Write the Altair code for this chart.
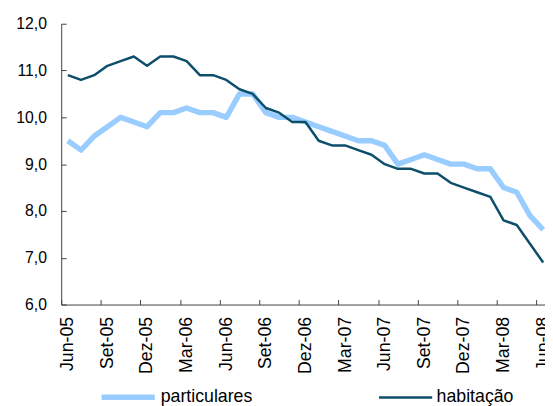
import altair as alt
import pandas as pd

# Monthly categories Jun-05 .. Jun-08
months = ["Jun-05", "Jul-05", "Ago-05", "Set-05", "Out-05", "Nov-05", "Dez-05",
          "Jan-06", "Fev-06", "Mar-06", "Abr-06", "Mai-06", "Jun-06", "Jul-06",
          "Ago-06", "Set-06", "Out-06", "Nov-06", "Dez-06", "Jan-07", "Fev-07",
          "Mar-07", "Abr-07", "Mai-07", "Jun-07", "Jul-07", "Ago-07", "Set-07",
          "Out-07", "Nov-07", "Dez-07", "Jan-08", "Fev-08", "Mar-08", "Abr-08",
          "Mai-08", "Jun-08"]
tick_labels = ["Jun-05", "Set-05", "Dez-05", "Mar-06", "Jun-06", "Set-06", "Dez-06",
               "Mar-07", "Jun-07", "Set-07", "Dez-07", "Mar-08", "Jun-08"]
particulares = [9.5, 9.3, 9.6, 9.8, 10.0, 9.9, 9.8, 10.1, 10.1, 10.2, 10.1, 10.1, 10.0,
                10.5, 10.5, 10.1, 10.0, 10.0, 9.9, 9.8, 9.7, 9.6, 9.5, 9.5, 9.4, 9.0,
                9.1, 9.2, 9.1, 9.0, 9.0, 8.9, 8.9, 8.5, 8.4, 7.9, 7.6]
habitacao = [10.9, 10.8, 10.9, 11.1, 11.2, 11.3, 11.1, 11.3, 11.3, 11.2, 10.9, 10.9, 10.8,
             10.6, 10.5, 10.2, 10.1, 9.9, 9.9, 9.5, 9.4, 9.4, 9.3, 9.2, 9.0, 8.9,
             8.9, 8.8, 8.8, 8.6, 8.5, 8.4, 8.3, 7.8, 7.7, 7.3, 6.9]
series_names = ["particulares", "habitação"]
series_colors = ["#99ccff", "#0d4e6b"]
y_ticks = [6, 7, 8, 9, 10, 11, 12]

rows = []
for name, vals in zip(series_names, [particulares, habitacao]):
    for i, (m, v) in enumerate(zip(months, vals)):
        rows.append({"i": i, "mes": m, "serie": name, "v": v})
df = pd.DataFrame(rows)

label_positions = [months.index(t) for t in tick_labels]
label_expr = "[" + ",".join("'%s'" % t for t in tick_labels) + "][round(datum.value/3)]"
x_tick_positions = [p - 0.5 for p in label_positions]

W, H = 491, 285
FONT = "Liberation Sans"
AXIS_COLOR = "#404040"

x_scale = alt.Scale(domain=[-0.5, 36.14], nice=False, zero=False)
y_scale = alt.Scale(domain=[6, 12], nice=False, zero=False)

legend = alt.Legend(
    title=None, orient="none", legendX=38, legendY=349, direction="horizontal",
    symbolType="stroke", symbolSize=2916, labelFontSize=18, labelFont=FONT,
    labelColor="black", labelOffset=3, columnPadding=122, padding=0,
)

lines = alt.Chart(df).mark_line(clip=True, strokeJoin="round").encode(
    x=alt.X("i:Q", scale=x_scale, axis=alt.Axis(
        values=label_positions, labelExpr=label_expr, labelAngle=270,
        labelAlign="right", labelBaseline="middle", labelPadding=12,
        ticks=False, tickSize=0, grid=False, title=None, labelFontSize=18,
        labelFont=FONT, labelColor="black", labelOverlap=False, labelFlush=False,
        domainColor=AXIS_COLOR, domainWidth=1)),
    y=alt.Y("v:Q", scale=y_scale, axis=alt.Axis(
        values=y_ticks, labelExpr="replace(format(datum.value, '.1f'), '.', ',')",
        labelPadding=15, ticks=False, tickSize=0, grid=False, title=None,
        labelFontSize=16, labelFont=FONT, labelColor="black",
        domainColor=AXIS_COLOR, domainWidth=1)),
    color=alt.Color("serie:N", scale=alt.Scale(domain=series_names, range=series_colors),
                    legend=legend),
    strokeWidth=alt.StrokeWidth("serie:N", scale=alt.Scale(domain=series_names, range=[5.5, 2.5]),
                                legend=legend),
)

tick_layer = alt.Chart(df).mark_point(opacity=0, clip=True).encode(
    x=alt.X("i:Q", scale=x_scale, axis=alt.Axis(
        orient="top", offset=-H, values=x_tick_positions, labels=False,
        ticks=True, tickSize=5, tickColor=AXIS_COLOR, domain=False, grid=False, title=None)),
    y=alt.Y("v:Q", scale=y_scale, axis=alt.Axis(
        orient="right", offset=-W, values=y_ticks, labels=False,
        ticks=True, tickSize=5, tickColor=AXIS_COLOR, domain=False, grid=False, title=None)),
)

chart = alt.layer(lines, tick_layer).resolve_axis(
    x="independent", y="independent"
).properties(
    width=W, height=H,
    autosize=alt.AutoSizeParams(type="none"),
    padding={"left": 54, "top": 13, "right": 0, "bottom": 100},
    background="white",
).configure_view(stroke=None)

chart.save("out.html", embed_options={"renderer": "svg", "actions": False})
